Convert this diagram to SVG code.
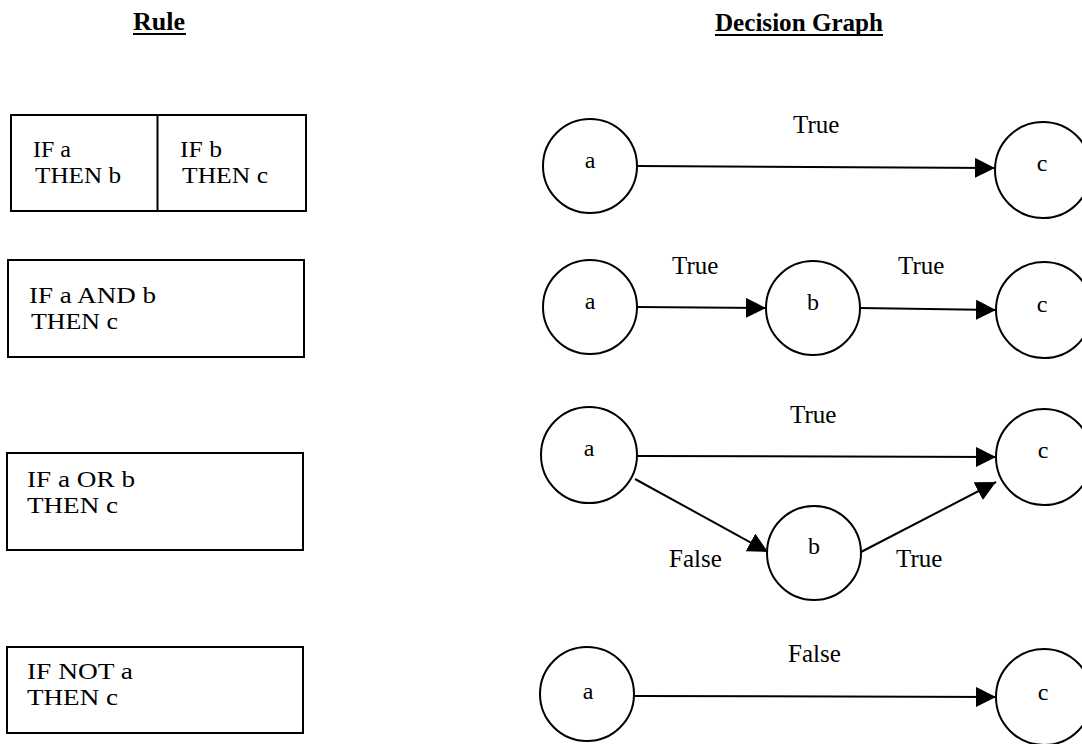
<svg xmlns="http://www.w3.org/2000/svg" width="1082" height="744" viewBox="0 0 1082 744">
  <style>
    text { font-family: "Liberation Serif", "Times New Roman", serif; fill: #000; }
    .head { font-size: 26px; font-weight: bold; }
    .rule { font-size: 24px; }
    .lbl { font-size: 25px; }
    .nd { font-size: 24px; text-anchor: middle; }
    .box { fill: #fff; stroke: #000; stroke-width: 2; }
    .node { fill: #fff; stroke: #000; stroke-width: 2; }
    .edge { stroke: #000; stroke-width: 2; fill: none; marker-end: url(#arrow); }
    .ul { stroke: #000; stroke-width: 2; }
  </style>
  <defs>
    <marker id="arrow" markerUnits="userSpaceOnUse" markerWidth="22" markerHeight="22" refX="20" refY="10" orient="auto">
      <path d="M0,0 L20,10 L0,20 Z" fill="#000"/>
    </marker>
  </defs>
  <rect width="1082" height="744" fill="#fff"/>

  <!-- column headings -->
  <g id="headings">
    <text class="head" x="133" y="30">Rule</text>
    <line class="ul" x1="133" y1="34" x2="186" y2="34"/>
    <text class="head" x="715" y="31" textLength="168" lengthAdjust="spacingAndGlyphs">Decision Graph</text>
    <line class="ul" x1="715" y1="35" x2="883" y2="35"/>
  </g>

  <!-- rule boxes -->
  <g id="rule-chain">
    <rect class="box" x="11" y="115" width="295" height="96"/>
    <line x1="157.5" y1="115" x2="157.5" y2="211" stroke="#000" stroke-width="2"/>
    <text class="rule" x="33" y="157" textLength="38" lengthAdjust="spacingAndGlyphs">IF a</text>
    <text class="rule" x="35" y="183" textLength="86" lengthAdjust="spacingAndGlyphs">THEN b</text>
    <text class="rule" x="180" y="157" textLength="42" lengthAdjust="spacingAndGlyphs">IF b</text>
    <text class="rule" x="182" y="183" textLength="86" lengthAdjust="spacingAndGlyphs">THEN c</text>
  </g>
  <g id="rule-and">
    <rect class="box" x="8" y="260" width="296" height="97"/>
    <text class="rule" x="29" y="303" textLength="127" lengthAdjust="spacingAndGlyphs">IF a AND b</text>
    <text class="rule" x="31" y="329" textLength="87" lengthAdjust="spacingAndGlyphs">THEN c</text>
  </g>
  <g id="rule-or">
    <rect class="box" x="7" y="453" width="296" height="97"/>
    <text class="rule" x="27" y="487" textLength="108" lengthAdjust="spacingAndGlyphs">IF a OR b</text>
    <text class="rule" x="27" y="513" textLength="91" lengthAdjust="spacingAndGlyphs">THEN c</text>
  </g>
  <g id="rule-not">
    <rect class="box" x="7" y="647" width="296" height="86"/>
    <text class="rule" x="27" y="679" textLength="106" lengthAdjust="spacingAndGlyphs">IF NOT a</text>
    <text class="rule" x="27" y="705" textLength="91" lengthAdjust="spacingAndGlyphs">THEN c</text>
  </g>

  <!-- connectors -->
  <g id="connectors">
    <line class="edge" x1="637" y1="166" x2="995" y2="168"/>
    <line class="edge" x1="637" y1="307" x2="766" y2="308"/>
    <line class="edge" x1="860" y1="308" x2="996" y2="310"/>
    <line class="edge" x1="637" y1="456" x2="996" y2="457"/>
    <line class="edge" x1="635" y1="479" x2="768" y2="552"/>
    <line class="edge" x1="861" y1="552" x2="996" y2="482"/>
    <line class="edge" x1="634" y1="696" x2="996" y2="697"/>
    <text class="lbl" x="793" y="133">True</text>
    <text class="lbl" x="672" y="274">True</text>
    <text class="lbl" x="898" y="274">True</text>
    <text class="lbl" x="790" y="423">True</text>
    <text class="lbl" x="669" y="567">False</text>
    <text class="lbl" x="896" y="567">True</text>
    <text class="lbl" x="788" y="662">False</text>
  </g>

  <!-- graph nodes -->
  <g id="r1-a"><circle class="node" cx="590" cy="166" r="47"/><text class="nd" x="590" y="168">a</text></g>
  <g id="r1-c"><circle class="node" cx="1043" cy="170" r="48"/><text class="nd" x="1042" y="171">c</text></g>

  <g id="r2-a"><circle class="node" cx="590" cy="307" r="47"/><text class="nd" x="590" y="309">a</text></g>
  <g id="r2-b"><circle class="node" cx="813" cy="308" r="47"/><text class="nd" x="813" y="310">b</text></g>
  <g id="r2-c"><circle class="node" cx="1044" cy="310" r="48"/><text class="nd" x="1042" y="312">c</text></g>

  <g id="r3-a"><circle class="node" cx="589" cy="455" r="48"/><text class="nd" x="589" y="456">a</text></g>
  <g id="r3-b"><circle class="node" cx="814" cy="553" r="47"/><text class="nd" x="814" y="554">b</text></g>
  <g id="r3-c"><circle class="node" cx="1044" cy="457" r="48"/><text class="nd" x="1043" y="458">c</text></g>

  <g id="r4-a"><circle class="node" cx="587" cy="694" r="47"/><text class="nd" x="588" y="699">a</text></g>
  <g id="r4-c"><circle class="node" cx="1044" cy="697" r="48"/><text class="nd" x="1043" y="700">c</text></g>
</svg>
